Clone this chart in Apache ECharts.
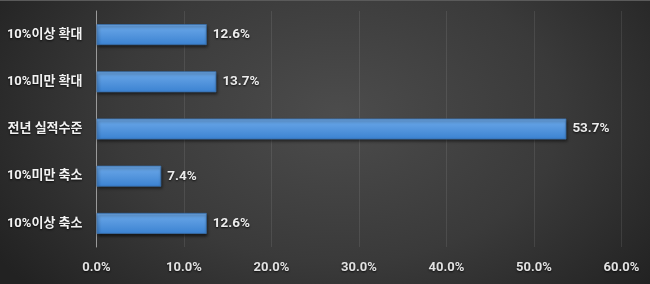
<!DOCTYPE html>
<html><head><meta charset="utf-8">
<script src="https://cdn.jsdelivr.net/npm/echarts@6/dist/echarts.min.js"></script>
<style>
html,body{margin:0;padding:0;background:#222;}
#c{width:650px;height:284px;background:radial-gradient(ellipse 62% 95% at 52% 40%, #4c4c4c 0%, #3a3a3a 55%, #222 100%);box-sizing:border-box;border-top:1px solid #5a5a5a;}
</style></head>
<body><div id="c"></div>
<script>
const categories = ['10%이상 확대','10%미만 확대','전년 실적수준','10%미만 축소','10%이상 축소'];
const values = [12.6, 13.7, 53.7, 7.4, 12.6];
const xTicks = [0, 10, 20, 30, 40, 50, 60];

const font = "Roboto, 'Noto Sans CJK KR', sans-serif";
const chart = echarts.init(document.getElementById('c'), null, {renderer:'canvas'});
chart.setOption({
  backgroundColor: 'transparent',
  animation: false,
  grid: {left: 96.5, right: 28.5, top: 10, bottom: 37, containLabel: false},
  xAxis: {
    type: 'value', min: xTicks[0], max: xTicks[xTicks.length-1], interval: 10,
    axisLine: {show: false},
    axisTick: {show: false},
    splitLine: {show: true, lineStyle: {color: 'rgba(255,255,255,0.09)', width: 1}},
    axisLabel: {
      margin: 14, color: '#e2e2e2', fontSize: 13, fontWeight: 'bold', fontFamily: font,
      formatter: v => v.toFixed(1) + '%',
      textShadowColor: 'rgba(0,0,0,0.8)', textShadowBlur: 2, textShadowOffsetY: 1
    }
  },
  yAxis: {
    type: 'category', data: categories, inverse: true,
    axisLine: {show: true, lineStyle: {color: '#9a9a9a', width: 1}},
    axisTick: {show: false},
    axisLabel: {
      margin: 14, color: '#f2f2f2', fontSize: 13, fontWeight: 'bold', fontFamily: font,
      textShadowColor: 'rgba(0,0,0,0.8)', textShadowBlur: 2, textShadowOffsetY: 1
    }
  },
  series: [{
    type: 'bar', data: values, barWidth: 21,
    itemStyle: {
      color: new echarts.graphic.LinearGradient(0, 0, 0, 1, [
        {offset: 0, color: '#6eaaea'},
        {offset: 1, color: '#3b82d1'}
      ]),
      borderColor: '#3a6ea8', borderWidth: 0.8,
      shadowColor: 'rgba(0,0,0,0.6)', shadowBlur: 3, shadowOffsetX: 1, shadowOffsetY: 2
    },
    label: {
      show: true, position: 'right', distance: 6,
      color: '#ececec', fontSize: 13.5, fontWeight: 'bold', fontFamily: font,
      formatter: p => p.value.toFixed(1) + '%',
      textShadowColor: 'rgba(0,0,0,0.8)', textShadowBlur: 2, textShadowOffsetY: 1
    }
  }]
});
</script></body></html>
